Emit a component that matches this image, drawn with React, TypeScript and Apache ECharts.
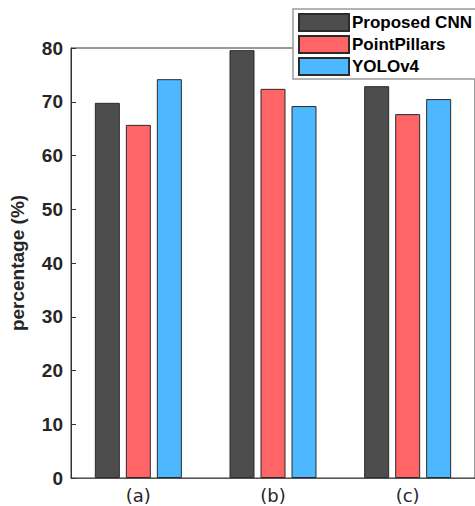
import React, { useEffect, useRef } from "react";
import * as echarts from "echarts";

// Detection accuracy per scenario
const categories = ["(a)", "(b)", "(c)"];
const proposedCNN = [69.8, 79.6, 72.9];
const pointPillars = [65.7, 72.4, 67.7];
const yoloV4 = [74.2, 69.2, 70.5];
const yTicks = { min: 0, max: 80, interval: 10 };

const barBorder = { borderColor: "#2b2b2b", borderWidth: 1 };

export default function App() {
  const ref = useRef<HTMLDivElement>(null);

  useEffect(() => {
    if (!ref.current) return;
    const chart = echarts.init(ref.current, null, { renderer: "svg" });
    chart.setOption({
      animation: false,
      backgroundColor: "#ffffff",
      grid: {
        left: 69,
        top: 48,
        bottom: 28,
        width: 417,
        show: true,
        borderColor: "#333333",
        borderWidth: 1,
        containLabel: false,
      },
      legend: {
        orient: "vertical",
        left: 293,
        top: 9,
        itemWidth: 50,
        itemHeight: 17,
        itemGap: 3,
        padding: [4, 30, 3, 5],
        backgroundColor: "#ffffff",
        borderColor: "#9a9a9a",
        borderWidth: 1.5,
        borderRadius: 0,
        icon: "rect",
        textStyle: {
          fontFamily: "Liberation Sans, Arial, sans-serif",
          fontWeight: "bold",
          fontSize: 17,
          lineHeight: 17,
          color: "#000000",
          padding: [0, 0, 0, -2],
        },
        data: ["Proposed CNN", "PointPillars", "YOLOv4"],
      },
      xAxis: {
        type: "category",
        data: categories,
        axisLine: { show: true, lineStyle: { color: "#555555", width: 1 } },
        axisTick: { show: false },
        axisLabel: {
          fontFamily: "DejaVu Sans, sans-serif",
          fontSize: 18,
          color: "#262626",
          margin: 8,
        },
      },
      yAxis: {
        type: "value",
        min: yTicks.min,
        max: yTicks.max,
        interval: yTicks.interval,
        name: "percentage (%)",
        nameLocation: "middle",
        nameRotate: 90,
        nameGap: 44,
        nameTextStyle: {
          fontFamily: "Liberation Sans, Arial, sans-serif",
          fontWeight: "bold",
          fontSize: 19,
          color: "#262626",
        },
        axisLine: { show: true, lineStyle: { color: "#333333", width: 1 } },
        axisTick: { show: true, inside: true, length: 5, lineStyle: { color: "#333333" } },
        splitLine: { show: false },
        axisLabel: {
          fontFamily: "Liberation Sans, Arial, sans-serif",
          fontWeight: "bold",
          fontSize: 19,
          color: "#262626",
          margin: 8,
        },
      },
      series: [
        {
          name: "Proposed CNN",
          type: "bar",
          data: proposedCNN,
          barWidth: 25,
          barGap: "24%",
          itemStyle: { color: "#4d4d4d", ...barBorder },
        },
        {
          name: "PointPillars",
          type: "bar",
          data: pointPillars,
          barWidth: 25,
          barGap: "24%",
          itemStyle: { color: "#ff6466", ...barBorder },
        },
        {
          name: "YOLOv4",
          type: "bar",
          data: yoloV4,
          barWidth: 25,
          barGap: "24%",
          itemStyle: { color: "#4db8ff", ...barBorder },
        },
      ],
    });
    return () => chart.dispose();
  }, []);

  return (
    <div
      ref={ref}
      style={{ position: "fixed", left: 0, top: 0, width: 475, height: 506 }}
    />
  );
}
